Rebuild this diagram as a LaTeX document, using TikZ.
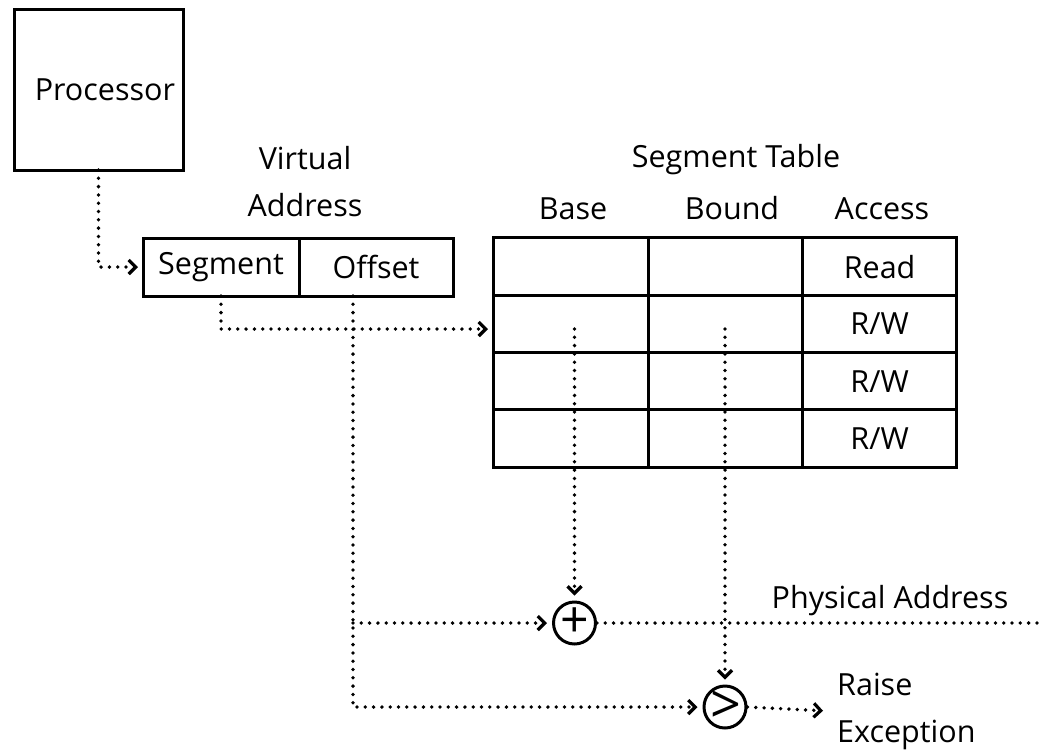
\documentclass[tikz,border=0pt]{standalone}
\usepackage{fontspec}
\setmainfont{Open Sans}
\usetikzlibrary{arrows.meta,positioning}

\begin{document}
\begin{tikzpicture}[x=1pt,y=-1pt,>={Straight Barb[length=7pt,width=14pt,line width=3.2pt]},
  font=\fontsize{30.5}{47}\selectfont,
  box/.style={draw,line width=3pt,outer sep=0pt,inner sep=0pt},
  cell/.style={box,minimum width=154.3pt,minimum height=57.3pt},
  op/.style={draw,circle,line width=3pt,minimum size=42pt,inner sep=0pt},
  sign/.style={inner sep=0pt,font=\fontsize{#1}{#1}\selectfont},
  lbl/.style={inner sep=0pt},
  dots/.style={line width=3.8pt,line cap=round,dash pattern=on 0pt off 8.3pt},
  ptr/.style={dots,->,shorten >=5pt}]

  \useasboundingbox (0,0) rectangle (1044,750);

  % processor and the virtual address
  \node (proc) [box,minimum height=161pt,text width=153pt,inner xsep=8pt,align=right] at (98.5,89.5) {Processor};
  \node (seg)  [box,minimum width=156pt,minimum height=58pt] at (221,267) {Segment};
  \node (off)  [box,minimum width=154pt,minimum height=58pt,right=0pt of seg] {Offset};
  \node (vahd) [lbl,align=center] at (305,182) {Virtual\\Address};

  % segment table
  \node (base1)  [cell] at (571,266.6) {};
  \node (bound1) [cell,right=0pt of base1] {};
  \node (acc1)   [cell,right=0pt of bound1] {Read};
  \foreach \r [count=\p] in {2,3,4} {
    \node (base\r)  [cell,below=0pt of base\p] {};
    \node (bound\r) [cell,below=0pt of bound\p] {};
    \node (acc\r)   [cell,below=0pt of acc\p] {R/W};
  }
  \node (sthd)  [lbl,anchor=base] at (736,167) {Segment Table};
  \node (basehd)  [lbl,anchor=base] at (573,219) {Base};
  \node (boundhd) [lbl,anchor=base] at (732,219) {Bound};
  \node (acchd)   [lbl,anchor=base] at (882,219) {Access};

  % adder and bound check
  \node (add) [op] at (574.5,623) {};
  \node (addsign) [sign=50] at (add) {+};
  \node (cmp) [op] at (725,707) {};
  \node (cmpsign) [sign=54] at ([xshift=1pt]cmp) {>};
  \node (pahd) [lbl,anchor=base] at (890,608) {Physical Address};
  \node (exc)  [lbl,anchor=west,align=left] at (837,711) {Raise\\Exception};

  \coordinate (rowtwo) at (493,329);
  \coordinate (tap) at (353,296);
  \coordinate (pa) at (1044,623);

  \draw[ptr] (proc.south) |- (seg.west);
  \draw[ptr] (seg.south) |- (rowtwo);
  \draw[ptr] (add |- rowtwo) -- (add.north);
  \draw[ptr] (cmp |- rowtwo) -- (cmp.north);
  \draw[ptr] (tap) |- (cmp.west);
  \draw[ptr] (tap |- add) -- (add.west);
  \draw[dots] (add.east) -- (pa);
  \draw[ptr] (cmp.east) -- ([xshift=-9pt]exc.west);

\end{tikzpicture}
\end{document}
